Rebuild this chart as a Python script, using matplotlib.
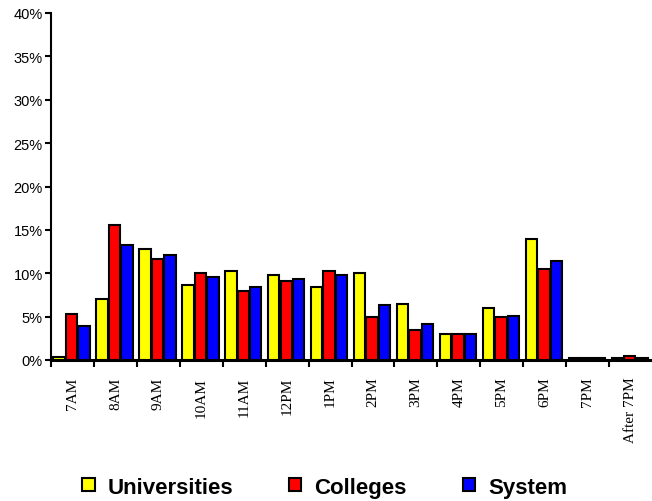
import numpy as np
import matplotlib
matplotlib.use("Agg")
from matplotlib import pyplot as plt
from matplotlib.ticker import PercentFormatter

categories = ["7AM", "8AM", "9AM", "10AM", "11AM", "12PM", "1PM", "2PM",
              "3PM", "4PM", "5PM", "6PM", "7PM", "After 7PM"]
universities = [0.3, 7.0, 12.8, 8.6, 10.3, 9.8, 8.4, 10.0, 6.5, 3.05, 6.0, 13.9, 0.25, 0.25]
colleges = [5.3, 15.6, 11.6, 10.0, 7.9, 9.1, 10.3, 4.9, 3.5, 3.05, 4.9, 10.5, 0.25, 0.5]
system = [3.95, 13.3, 12.1, 9.6, 8.4, 9.3, 9.8, 6.3, 4.2, 3.05, 5.1, 11.4, 0.25, 0.25]

series = [("Universities", universities, "#ffff00"),
          ("Colleges", colleges, "#ff0000"),
          ("System", system, "#0000ff")]

fig = plt.figure(figsize=(6.52, 5.02), dpi=100)
ax = fig.add_axes([51 / 652, 141 / 502, 601 / 652, 347 / 502])

x = np.arange(len(categories))
step = 0.29
for i, (name, vals, color) in enumerate(series):
    ax.bar(x + (i - 1) * step - 0.02, vals, 0.265, color=color,
           edgecolor="black", linewidth=1.5, label=name, zorder=3)

ax.set_xlim(-0.5, len(categories) - 0.5)
ax.set_ylim(0, 40)
ax.set_yticks(np.arange(0, 41, 5))
ax.yaxis.set_major_formatter(PercentFormatter(decimals=0))

ax.set_xticks(x)
ax.set_xticklabels(categories, rotation=90, fontsize=11, family="Liberation Serif", va="top")
ax.set_xticks(np.arange(len(categories)) - 0.5, minor=True)
ax.tick_params(axis="x", which="major", length=0, pad=12)
ax.tick_params(axis="x", which="minor", length=5, width=1.5, direction="out")
ax.tick_params(axis="y", length=4, width=1.5, direction="out", labelsize=10.5, pad=2)
for lbl in ax.get_yticklabels():
    lbl.set_family("Liberation Sans")

for s in ["top", "right"]:
    ax.spines[s].set_visible(False)
ax.spines["left"].set_linewidth(1.5)
ax.spines["bottom"].set_linewidth(2.2)

fig.legend(loc="lower center", bbox_to_anchor=(0.498, -0.033), ncol=3, frameon=False,
           prop={"family": "Liberation Sans", "weight": "bold", "size": 16},
           handlelength=0.55, handleheight=0.55, columnspacing=2.5, handletextpad=0.6)

fig.savefig("out.png", dpi=100)
